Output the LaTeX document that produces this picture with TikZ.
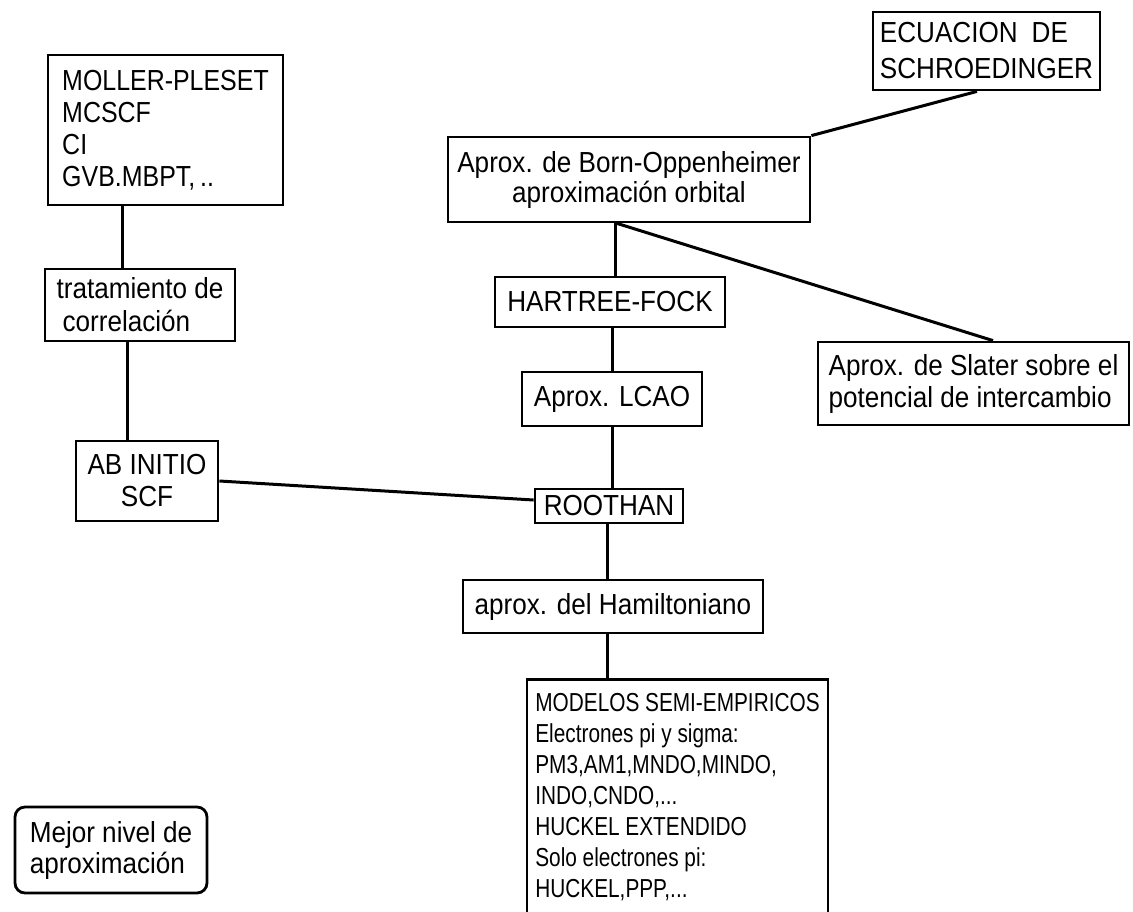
\documentclass[tikz,border=0pt]{standalone}
\usepackage{fontspec}
\newfontfamily\fA[FakeStretch=0.9]{Liberation Sans}
\newfontfamily\fB[FakeStretch=0.8]{Liberation Sans}
\newfontfamily\fC[FakeStretch=0.86]{Liberation Sans}
\begin{document}
\begin{tikzpicture}[x=1pt,y=-1pt,
  bx/.style={draw, line width=2.8pt, inner sep=0pt, font=\fA\fontsize{29}{31}\selectfont},
  lbox/.style={bx, align=left},
  cbox/.style={bx, align=center},
  link/.style={line width=3pt}]
\path[use as bounding box, clip] (0,0) rectangle (1133,911);
\fill[white] (0,0) rectangle (1133,911);

% boxes
\node[lbox, font=\fC\fontsize{29}{32}\selectfont, minimum width=235pt, minimum height=150pt] (moller) at (165.5,130)
  {MOLLER-PLESET\\MCSCF\\CI\\GVB.MBPT,\,..};
\node[lbox, font=\fA\fontsize{29}{36}\selectfont, minimum width=227pt, minimum height=78pt] (schr) at (986.5,51)
  {ECUACION\hspace{14pt}DE\\SCHROEDINGER};
\node[cbox, font=\fA\fontsize{29}{30}\selectfont, minimum width=362pt, minimum height=85pt] (bo) at (629,179.5)
  {Aprox. de Born-Oppenheimer\\aproximación orbital};
\node[cbox, minimum width=230pt, minimum height=50pt] (hf) at (610,302) {HARTREE-FOCK};
\node[cbox, minimum width=180pt, minimum height=54pt] (lcao) at (612,399) {Aprox. LCAO};
\node[cbox, minimum width=148pt, minimum height=34pt] (roothan) at (609,506) {ROOTHAN};
\node[cbox, minimum width=300pt, minimum height=53pt] (ham) at (613,606.5) {aprox. del Hamiltoniano};
\node[lbox, anchor=north, font=\fB\fontsize{26}{31}\selectfont, minimum width=301pt, inner ysep=14pt] (modelos) at (677.5,678)
  {MODELOS SEMI-EMPIRICOS\\Electrones pi y sigma:\\PM3,AM1,MNDO,MINDO,\\INDO,CNDO,...\\HUCKEL EXTENDIDO\\Solo electrones pi:\\HUCKEL,PPP,...\rule[-60pt]{0pt}{60pt}};
\node[lbox, font=\fA\fontsize{29}{32}\selectfont, minimum width=311pt, minimum height=83pt] (slater) at (973.5,383.5)
  {Aprox. de Slater sobre el\\potencial de intercambio};
\node[lbox, font=\fA\fontsize{29}{33}\selectfont, minimum width=190pt, minimum height=72pt] (trat) at (140,305)
  {tratamiento de\\\hspace*{6pt}correlación};
\node[cbox, font=\fA\fontsize{29}{32}\selectfont, minimum width=142pt, minimum height=80pt] (ab) at (147,481)
  {AB INITIO\\SCF};
\node[lbox, rounded corners=10pt, minimum width=192pt, minimum height=86pt] (mejor) at (111,850)
  {Mejor nivel de\\aproximación};

% connectors
\draw[link] ([xshift=-43.5pt]moller.south) -- ([xshift=-18pt]trat.north);
\draw[link] ([xshift=-13pt]trat.south) -- ([xshift=-20pt]ab.north);
\draw[link] (ab.east) -- ([yshift=6pt]roothan.west);
\draw[link] (bo.north east) -- ([xshift=-9.5pt]schr.south);
\draw[link] ([xshift=-14pt]bo.south) -- ([xshift=5pt]hf.north);
\draw[link] ([xshift=-12pt]bo.south) -- ([xshift=19.5pt]slater.north);
\draw[link] ([xshift=2pt]hf.south) -- (lcao.north);
\draw[link] (lcao.south) -- ([xshift=3pt]roothan.north);
\draw[link] ([xshift=-2pt]roothan.south) -- ([xshift=-6pt]ham.north);
\draw[link] ([xshift=-6pt]ham.south) -- ([xshift=-70.5pt]modelos.north);
\end{tikzpicture}
\end{document}
